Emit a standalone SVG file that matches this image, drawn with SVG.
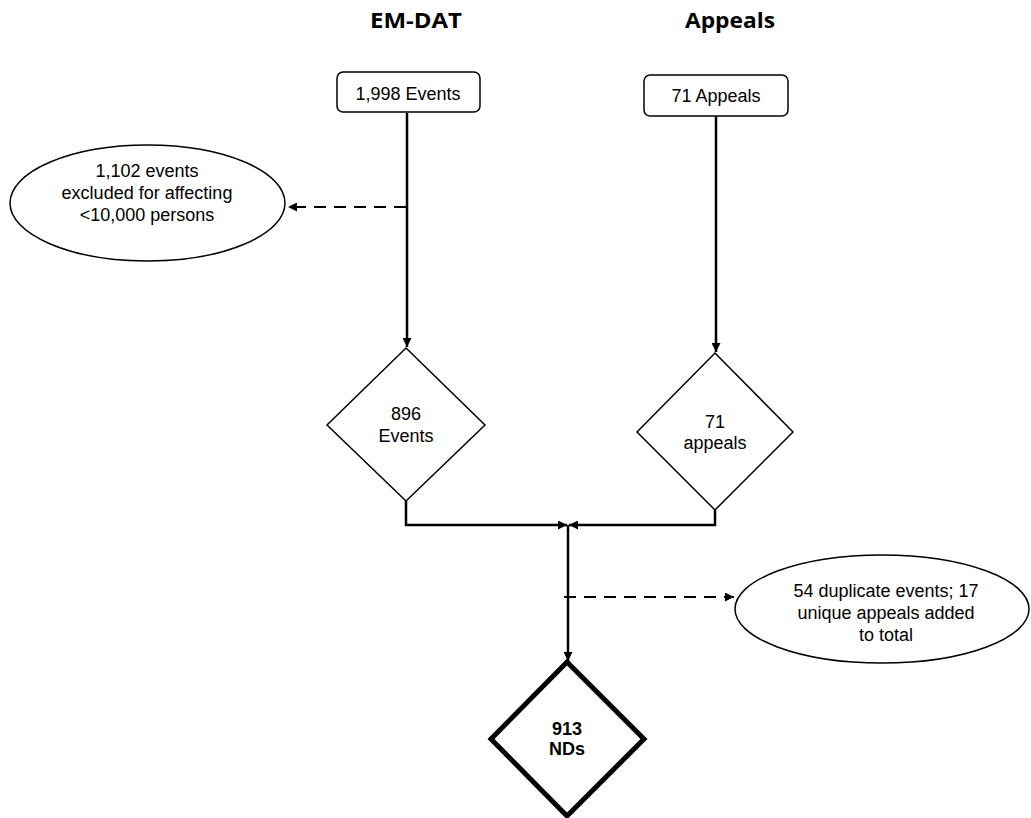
<svg xmlns="http://www.w3.org/2000/svg" width="1031" height="818" viewBox="0 0 1031 818">
<style>
.t{font-family:"Liberation Sans",Arial,sans-serif;font-size:18px;fill:#000;text-anchor:middle}
.h{font-family:"Open Sans","Liberation Sans",sans-serif;font-size:22px;font-weight:700;fill:#000;text-anchor:middle}
.b{font-weight:700}
.shape{fill:#fff;stroke:#000;stroke-width:1.5}
.line{fill:none;stroke:#000;stroke-width:2.5}
.dash{fill:none;stroke:#000;stroke-width:2;stroke-dasharray:12 8}
</style>
<defs>
<marker id="ah" viewBox="0 0 10 10" refX="10" refY="5" markerWidth="9" markerHeight="9" markerUnits="userSpaceOnUse" orient="auto">
<path d="M0,0 L10,5 L0,10 z" fill="#000"/>
</marker>
</defs>
<rect width="1031" height="818" fill="#fff"/>
<g id="headers">
<text class="h" x="416" y="28" textLength="92" lengthAdjust="spacingAndGlyphs">EM-DAT</text>
<text class="h" x="730" y="28" textLength="90" lengthAdjust="spacingAndGlyphs">Appeals</text>
</g>
<g id="connectors">
<line class="line" x1="407" y1="113" x2="407" y2="347" marker-end="url(#ah)"/>
<line class="line" x1="716" y1="116" x2="716" y2="352" marker-end="url(#ah)"/>
<line class="dash" x1="406" y1="207" x2="288" y2="207" marker-end="url(#ah)"/>
<polyline class="line" points="406,501 406,525 567,525" marker-end="url(#ah)"/>
<polyline class="line" points="715,510 715,525 569,525" marker-end="url(#ah)"/>
<line class="line" x1="568" y1="525" x2="568" y2="661" marker-end="url(#ah)"/>
<line class="dash" x1="564" y1="597" x2="734" y2="597" marker-end="url(#ah)"/>
</g>
<g id="n-emdat-box">
<rect class="shape" x="337" y="72" width="143" height="40" rx="6"/>
<text class="t" x="408" y="100">1,998 Events</text>
</g>
<g id="n-appeals-box">
<rect class="shape" x="644" y="75" width="144" height="41" rx="6"/>
<text class="t" x="716" y="102">71 Appeals</text>
</g>
<g id="n-excluded">
<ellipse class="shape" cx="147.5" cy="203" rx="137.5" ry="58"/>
<text class="t" x="147" y="177">1,102 events</text>
<text class="t" x="147" y="199">excluded for affecting</text>
<text class="t" x="147" y="221">&lt;10,000 persons</text>
</g>
<g id="n-896">
<polygon class="shape" points="406,348 485,425 406,501 327,425"/>
<text class="t" x="406" y="420">896</text>
<text class="t" x="406" y="442">Events</text>
</g>
<g id="n-71">
<polygon class="shape" points="715,353 793,432 715,510 637,432"/>
<text class="t" x="715" y="428">71</text>
<text class="t" x="715" y="449">appeals</text>
</g>
<g id="n-duplicates">
<ellipse class="shape" cx="882" cy="609" rx="147" ry="54"/>
<text class="t" x="886" y="597">54 duplicate events; 17</text>
<text class="t" x="886" y="619">unique appeals added</text>
<text class="t" x="886" y="641">to total</text>
</g>
<g id="n-913">
<polygon points="567,662 644,739 567,816 491,739" fill="#fff" stroke="#000" stroke-width="5" stroke-linejoin="miter"/>
<text class="t b" x="567" y="735">913</text>
<text class="t b" x="567" y="755">NDs</text>
</g>
</svg>
